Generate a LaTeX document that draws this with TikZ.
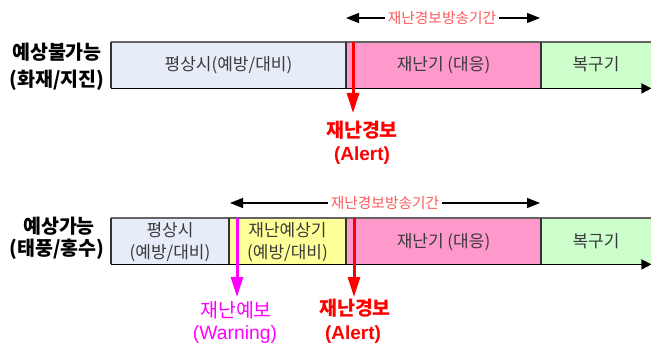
\documentclass[tikz,border=0pt]{standalone}
\usepackage{fontspec}
\setmainfont{Noto Sans CJK KR}
\newfontfamily\latinf{Liberation Sans}
\usetikzlibrary{arrows.meta}
\definecolor{calmblue}{RGB}{230,236,248}
\definecolor{prepyellow}{RGB}{255,255,153}
\definecolor{hotpink}{RGB}{255,153,204}
\definecolor{mintgreen}{RGB}{204,255,204}
\definecolor{boxtext}{RGB}{58,58,58}
\definecolor{spanred}{RGB}{255,90,90}
\definecolor{edgegray}{RGB}{100,100,100}
\definecolor{divgray}{RGB}{50,50,50}
\definecolor{warnmag}{RGB}{255,0,255}
\definecolor{alertred}{RGB}{255,0,0}
\begin{document}
\begin{tikzpicture}[x=1pt,y=-1pt,
  seg/.style={draw=none, inner sep=0pt, anchor=north west, minimum height=46pt},
  kt/.style={inner sep=0pt, anchor=base},
  boxlbl/.style={kt, text=boxtext, font=\fontsize{17}{19}\selectfont},
  sidelbl/.style={kt, font=\bfseries\fontsize{19.5}{21}\selectfont},
  alertlbl/.style={kt, text=alertred, font=\bfseries\fontsize{19.5}{21}\selectfont},
  alertlat/.style={kt, text=alertred, font=\latinf\bfseries\fontsize{19}{21}\selectfont},
  warnlbl/.style={kt, text=warnmag, font=\fontsize{19.5}{21}\selectfont},
  warnlat/.style={kt, text=warnmag, font=\latinf\fontsize{19.3}{21}\selectfont},
  spanlbl/.style={kt, fill=white, inner xsep=3pt, inner ysep=1pt, text=spanred, font=\fontsize{14.7}{16}\selectfont},
  spanarrow/.style={line width=1.2pt, {Triangle[length=13pt,width=10pt]}-{Triangle[length=13pt,width=10pt]}},
  topedge/.style={draw=edgegray, line width=1.2pt},
  divider/.style={draw=divgray, line width=1.2pt},
  axis/.style={draw=black, line width=1.6pt, -{Triangle[length=10pt,width=10pt]}},
  alertarrow/.style={draw=alertred, line width=3pt, -{Triangle[length=20pt,width=12pt]}},
  warnarrow/.style={draw=warnmag, line width=3pt, -{Triangle[length=20pt,width=12pt]}}
]
\useasboundingbox (0,0) rectangle (651,345);

% ---------- top row ----------
\node[seg, fill=calmblue, minimum width=235pt] (a1) at (111,42) {};
\node[seg, fill=hotpink, minimum width=195pt] (a2) at (346,42) {};
\node[seg, fill=mintgreen, minimum width=110pt] (a3) at (541,42) {};
\node[boxlbl] (a1t) at (228.5,70.8) {평상시(예방/대비)};
\node[boxlbl] (a2t) at (443.5,70.8) {재난기 (대응)};
\node[boxlbl] (a3t) at (596,70.8) {복구기};
\draw[topedge] (a1.north west) -- (a3.north east);
\draw[divider] (a1.north west) -- (a1.south west);
\draw[divider] (a2.north west) -- (a2.south west);
\draw[divider] (a3.north west) -- (a3.south west);
\draw[axis] (a1.south west) -- (a3.south east);

\node[sidelbl] (l1) at (57,59.2) {예상불가능};
\node[sidelbl] (l2) at (57,86.2) {(화재/지진)};

\coordinate (s1a) at (346,18);
\coordinate (s1b) at (540,18);
\draw[spanarrow] (s1a) -- (s1b);
\node[spanlbl] (sp1) at (442,23.4) {재난경보방송기간};

\coordinate (r1) at (353,42);
\coordinate (r1e) at (353,113);
\draw[alertarrow] (r1) -- (r1e);
\node[alertlbl] (al1) at (362,137.2) {재난경보};
\node[alertlat] (al2) at (362,160) {(Alert)};

% ---------- bottom row ----------
\node[seg, fill=calmblue, minimum width=118pt] (b1) at (111,218) {};
\node[seg, fill=prepyellow, minimum width=117pt] (b2) at (229,218) {};
\node[seg, fill=hotpink, minimum width=195pt] (b3) at (346,218) {};
\node[seg, fill=mintgreen, minimum width=110pt] (b4) at (541,218) {};
\node[boxlbl] (b1t) at (170,236.8) {평상시};
\node[boxlbl] (b1u) at (170,258.3) {(예방/대비)};
\node[boxlbl] (b2t) at (287.5,236.8) {재난예상기};
\node[boxlbl] (b2u) at (287.5,258.3) {(예방/대비)};
\node[boxlbl] (b3t) at (443.5,247.8) {재난기 (대응)};
\node[boxlbl] (b4t) at (596,247.8) {복구기};
\draw[topedge] (b1.north west) -- (b4.north east);
\draw[divider] (b1.north west) -- (b1.south west);
\draw[divider] (b2.north west) -- (b2.south west);
\draw[divider] (b3.north west) -- (b3.south west);
\draw[divider] (b4.north west) -- (b4.south west);
\draw[axis] (b1.south west) -- (b4.south east);

\node[sidelbl] (l3) at (59,233.7) {예상가능};
\node[sidelbl] (l4) at (57,255.2) {(태풍/홍수)};

\coordinate (s2a) at (230,203);
\coordinate (s2b) at (540,203);
\draw[spanarrow] (s2a) -- (s2b);
\node[spanlbl] (sp2) at (385,208.4) {재난경보방송기간};

\coordinate (m1) at (237,218);
\coordinate (m1e) at (237,297);
\draw[warnarrow] (m1) -- (m1e);
\node[warnlbl] (w1) at (236,317.2) {재난예보};
\node[warnlat] (w2) at (235,339) {(Warning)};

\coordinate (r2) at (354,218);
\coordinate (r2e) at (354,297);
\draw[alertarrow] (r2) -- (r2e);
\node[alertlbl] (al3) at (355,315.2) {재난경보};
\node[alertlat] (al4) at (353,339) {(Alert)};
\end{tikzpicture}
\end{document}
